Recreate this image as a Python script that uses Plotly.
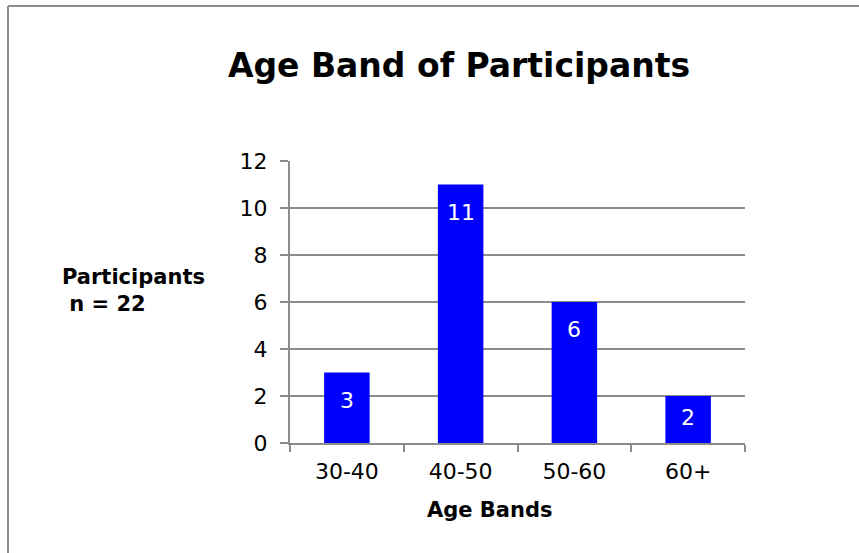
import plotly.graph_objects as go

categories = ["30-40", "40-50", "50-60", "60+"]
participants = [3, 11, 6, 2]
y_ticks = [0, 2, 4, 6, 8, 10, 12]

W, H = 859, 553
L, R, T, B = 290, 114, 161, 110
pw, ph = W - L - R, H - T - B
Y_MAX = 12

def px_x(x):
    return (x - L) / pw

def px_y(y):
    return (H - B - y) / ph

FONT = "DejaVu Sans"
GRAY = "#8c8c8c"

fig = go.Figure(go.Bar(
    x=categories, y=participants,
    marker=dict(color="#0000FF", line=dict(width=0)),
    width=0.4,
    cliponaxis=False,
))

bar_labels = [dict(x=c, y=v, xref="x", yref="y", text=str(v), showarrow=False,
                   yshift=-min(27.5, v * ph / Y_MAX / 2 - 2), yanchor="middle",
                   font=dict(color="white", size=22, family=FONT))
              for c, v in zip(categories, participants)]

fig.update_layout(
    width=W, height=H,
    margin=dict(l=L, r=R, t=T, b=B),
    paper_bgcolor="white", plot_bgcolor="white",
    showlegend=False,
    font=dict(family=FONT, color="black"),
    title=dict(text="<b>Age Band of Participants</b>", x=px_x(459), xref="paper",
               xanchor="center", y=1 - 65 / H, yanchor="middle",
               font=dict(size=33, family=FONT, color="black")),
    xaxis=dict(
        showline=True, linecolor=GRAY, linewidth=2,
        ticks="outside", tickson="boundaries", ticklen=7, tickcolor=GRAY, tickwidth=2,
        tickfont=dict(size=22, family=FONT, color="black"),
        ticklabelstandoff=8,
        showgrid=False,
    ),
    yaxis=dict(
        range=[0, Y_MAX], tickvals=y_ticks,
        showline=True, linecolor=GRAY, linewidth=2,
        ticks="outside", ticklen=8, tickcolor=GRAY, tickwidth=2,
        showgrid=True, gridcolor=GRAY, gridwidth=2,
        tickfont=dict(size=22, family=FONT, color="black"),
        ticklabelstandoff=8,
        zeroline=False,
    ),
    annotations=bar_labels + [
        dict(text="<b>Participants</b><br><b> n = 22</b>", xref="paper", yref="paper",
             x=px_x(60), y=px_y(290), xanchor="left", yanchor="middle", align="left",
             showarrow=False, font=dict(size=21, family=FONT, color="black")),
        dict(text="<b>Age Bands</b>", xref="paper", yref="paper",
             x=px_x(490), y=px_y(510), xanchor="center", yanchor="middle",
             showarrow=False, font=dict(size=21, family=FONT, color="black")),
    ],
    shapes=[
        dict(type="line", xref="paper", yref="paper", x0=px_x(8), x1=px_x(8), y0=px_y(6), y1=px_y(H + 5),
             line=dict(color=GRAY, width=2)),
        dict(type="line", xref="paper", yref="paper", x0=px_x(8), x1=px_x(W + 5), y0=px_y(6), y1=px_y(6),
             line=dict(color=GRAY, width=2)),
    ],
)

fig.write_html("out.html")
